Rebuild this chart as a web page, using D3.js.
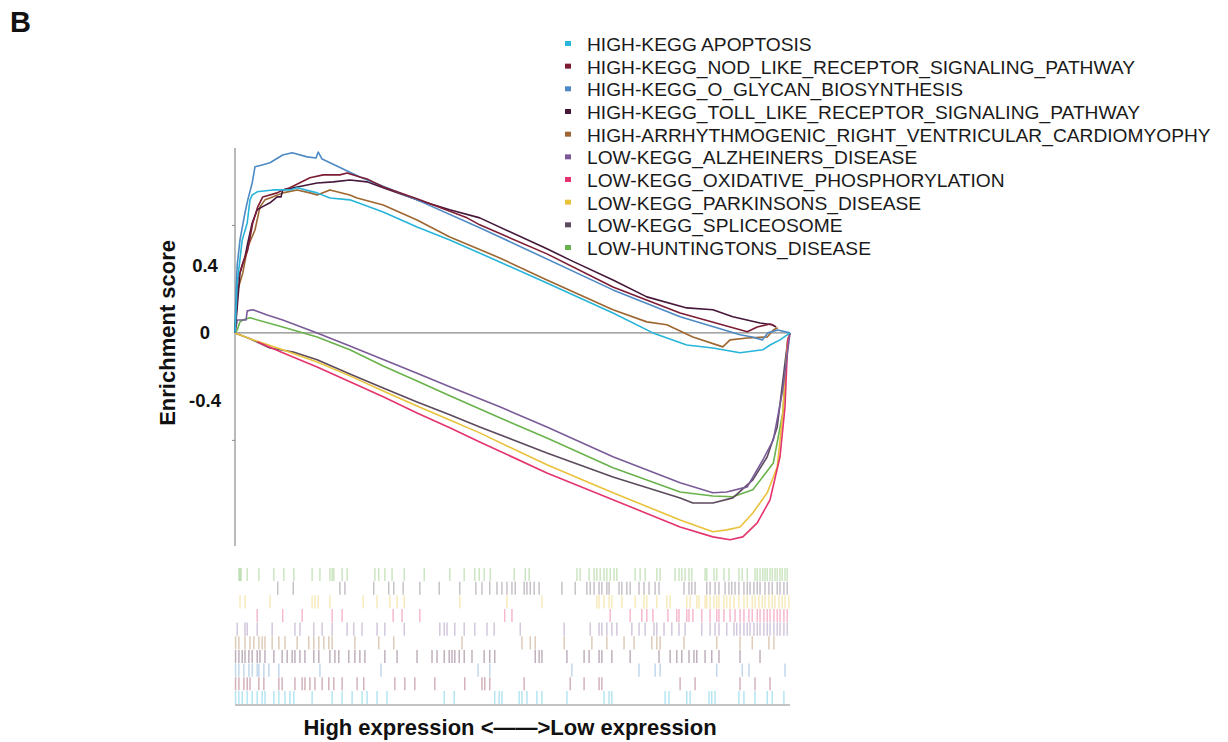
<!DOCTYPE html>
<html>
<head>
<meta charset="utf-8">
<script src="https://cdn.jsdelivr.net/npm/d3@7"></script>
<style>
  html, body { margin: 0; padding: 0; background: #fff; }
  svg { display: block; font-family: "Liberation Sans", Arial, sans-serif; }
</style>
</head>
<body>
<svg id="chart" width="1228" height="742"></svg>
<script>
// ---------- DATA ----------
const legendNames = [
  "HIGH-KEGG APOPTOSIS",
  "HIGH-KEGG_NOD_LIKE_RECEPTOR_SIGNALING_PATHWAY",
  "HIGH-KEGG_O_GLYCAN_BIOSYNTHESIS",
  "HIGH-KEGG_TOLL_LIKE_RECEPTOR_SIGNALING_PATHWAY",
  "HIGH-ARRHYTHMOGENIC_RIGHT_VENTRICULAR_CARDIOMYOPHY",
  "LOW-KEGG_ALZHEINERS_DISEASE",
  "LOW-KEGG_OXIDATIVE_PHOSPHORYLATION",
  "LOW-KEGG_PARKINSONS_DISEASE",
  "LOW-KEGG_SPLICEOSOME",
  "LOW-HUNTINGTONS_DISEASE"
];
const seriesColors = ["#27b4d9", "#7d1d35", "#4d8ac4", "#45183a", "#9e6630",
                      "#7a5b98", "#e5336b", "#e9c23a", "#5c4a5e", "#69b24c"];

// running enrichment score: [rank % of ordered gene list, ES]
const esApoptosis = [[0,0],[0.4,0.186],[1.3,0.346],[2.2,0.409],[2.7,0.495],[3.1,0.513],[4.0,0.525],[6.8,0.532],[9.9,0.532],[11.2,0.540],[14.8,0.521],[17.1,0.502],[20.7,0.495],[26.7,0.450],[32.8,0.394],[38.7,0.346],[47.7,0.264],[56.2,0.186],[68.1,0.074],[75.3,0],[81.4,-0.045],[86.1,-0.056],[91.0,-0.074],[95.1,-0.063],[96.4,-0.045],[98.2,-0.026],[100,0]];
const esNod = [[0,0],[0.5,0.197],[1.4,0.260],[2.3,0.309],[3.2,0.409],[4.1,0.469],[5.0,0.506],[7.6,0.521],[8.6,0.532],[9.9,0.540],[13.5,0.577],[15.9,0.588],[18.9,0.588],[20.2,0.595],[22.5,0.580],[23.8,0.573],[26.7,0.543],[32.8,0.499],[41.8,0.428],[44.1,0.402],[56.2,0.294],[68.1,0.171],[80.2,0.074],[89.7,0.019],[92.3,0.004],[94.1,0.022],[96.4,0.033],[97.3,0.026]];
const esOGlycan = [[0,0],[0.2,0.16],[0.4,0.253],[0.9,0.346],[1.8,0.447],[2.3,0.495],[3.1,0.558],[3.6,0.618],[4.9,0.625],[6.3,0.633],[8.6,0.662],[10.3,0.670],[13.0,0.655],[14.6,0.651],[15.0,0.673],[15.7,0.647],[22.5,0.580],[32.8,0.495],[44.1,0.391],[47.7,0.357],[68.1,0.160],[80.2,0.060],[91.0,-0.007],[93.2,-0.015],[95.0,-0.026],[96.0,0.0],[97.8,0.011],[100,0]];
const esToll = [[0,0],[0.2,0.048],[0.4,0.097],[0.9,0.223],[1.8,0.283],[2.3,0.335],[3.1,0.409],[4.0,0.458],[4.9,0.469],[6.3,0.484],[7.6,0.506],[8.3,0.506],[8.6,0.532],[11.2,0.543],[14.8,0.558],[17.7,0.562],[20.7,0.569],[23.8,0.562],[26.7,0.540],[32.8,0.495],[38.7,0.458],[44.1,0.428],[56.2,0.313],[60.7,0.268],[68.1,0.197],[74.2,0.134],[81.4,0.093],[86.1,0.086],[89.7,0.060],[94.6,0.037],[96.8,0.030],[97.5,0.022]];
const esArrhythm = [[0,0],[0.5,0.160],[1.4,0.223],[2.3,0.320],[3.6,0.383],[4.5,0.469],[5.4,0.495],[6.3,0.502],[8.6,0.521],[11.2,0.532],[13.5,0.521],[14.8,0.513],[17.1,0.532],[20.7,0.513],[22.0,0.502],[26.7,0.476],[32.8,0.420],[38.7,0.357],[47.7,0.279],[56.2,0.197],[68.1,0.086],[74.2,0.041],[77.8,0.030],[82.5,-0.015],[87.9,-0.052],[89.2,-0.026],[92.3,-0.019],[95.9,-0.015],[97.0,0.011],[97.8,0.019]];
const esAlzheimer = [[0,0],[0.4,0.048],[2.0,0.048],[2.2,0.082],[3.2,0.086],[5.8,0.067],[8.6,0.048],[14.8,0],[20.7,-0.049],[26.7,-0.099],[32.8,-0.150],[38.7,-0.200],[44.1,-0.245],[47.7,-0.275],[56.2,-0.350],[68.1,-0.461],[80.2,-0.558],[86.1,-0.595],[88.6,-0.592],[92.3,-0.573],[95.1,-0.473],[97.0,-0.398],[98.7,-0.212],[100,0]];
const esOxidative = [[4.0,-0.033],[8.6,-0.074],[14.8,-0.127],[20.7,-0.182],[26.7,-0.238],[32.8,-0.298],[38.7,-0.353],[44.1,-0.406],[56.2,-0.521],[68.1,-0.621],[80.2,-0.722],[86.1,-0.759],[89.2,-0.770],[91.5,-0.759],[94.1,-0.707],[96.4,-0.621],[98.2,-0.461],[99.1,-0.275],[99.6,-0.026],[100,0]];
const esParkinsons = [[0,0],[2.7,-0.022],[8.6,-0.063],[14.8,-0.108],[20.7,-0.160],[26.7,-0.216],[32.8,-0.272],[38.7,-0.324],[44.1,-0.372],[56.2,-0.491],[68.1,-0.595],[80.2,-0.696],[86.1,-0.740],[88.6,-0.733],[91.0,-0.722],[93.3,-0.670],[95.9,-0.595],[97.7,-0.499],[98.7,-0.298],[99.6,-0.026],[100,0]];
const esSpliceosome = [[0,0],[2.7,-0.022],[6.3,-0.056],[10.5,-0.071],[14.8,-0.100],[20.7,-0.153],[26.7,-0.205],[32.8,-0.257],[38.7,-0.305],[44.1,-0.350],[56.2,-0.447],[68.1,-0.536],[80.2,-0.614],[82.5,-0.633],[86.1,-0.633],[89.7,-0.614],[93.3,-0.547],[95.9,-0.461],[97.7,-0.350],[99.6,-0.026],[100,0]];
const esHuntington = [[0,0],[0.4,0.011],[0.9,0.041],[1.4,0.048],[2.7,0.056],[8.6,0.022],[14.8,-0.015],[20.7,-0.063],[26.7,-0.123],[32.8,-0.179],[38.7,-0.234],[47.7,-0.316],[56.2,-0.391],[68.1,-0.502],[80.2,-0.592],[86.1,-0.607],[89.7,-0.610],[93.3,-0.584],[97.0,-0.484],[98.7,-0.298],[99.6,-0.026],[100,0]];

// gene-set hit positions (rank % of ordered gene list)
const hitsApoptosis = [0.1,0.7,1.3,2.2,3.1,4.0,4.9,5.4,7.0,7.9,9.0,9.9,10.6,13.9,17.5,19.3,21.1,22.9,23.8,25.6,27.4,37.7,39.5,46.8,47.6,48.1,51.2,51.7,52.6,54.4,55.3,59.8,66.5,67.4,67.9,77.5,78.2,81.4,82.0,85.4,85.9,86.5,90.8,91.7,93.7,95.9,96.8,98.9];
const hitsNod = [0.1,0.7,1.6,2.2,2.7,4.3,5.2,7.9,8.5,10.8,12.1,12.6,13.5,14.4,15.7,16.9,17.8,19.3,22.0,23.2,28.8,30.6,32.4,36.0,41.4,44.5,45.0,45.9,52.1,60.4,62.9,65.6,66.1,80.2,82.9,91.0,93.7,96.4];
const hitsOGlycan = [0.1,0.7,1.6,2.5,3.1,4.0,4.3,5.2,6.1,7.9,15.3,26.3,43.8,45.9,60.7,72.8,75.7,76.6,86.8,91.4,92.6,99.1];
const hitsToll = [0.1,0.7,1.3,1.8,2.5,3.1,4.0,4.5,5.4,7.0,8.5,9.4,10.3,10.8,11.7,12.6,14.2,15.1,17.1,18.0,18.7,20.5,21.6,22.5,23.4,27.0,29.2,32.8,35.5,36.4,37.7,38.6,39.1,39.6,40.4,41.3,42.7,44.9,45.9,46.8,54.1,54.8,55.3,59.8,62.9,63.8,65.6,66.1,67.9,71.2,76.4,78.4,79.6,80.5,81.8,82.7,83.2,84.7,85.9,87.2,91.0,94.6];
const hitsArrhythm = [0.1,0.7,1.8,2.7,3.4,4.3,4.9,5.4,6.7,7.9,9.0,11.2,13.3,14.2,15.1,16.0,16.9,17.5,21.6,25.9,28.6,40.9,51.7,53.2,54.1,59.3,64.3,67.0,70.1,71.9,75.1,76.0,76.6,80.9,86.8,91.0,93.2,96.2,97.1];
const hitsAlzheimer = [0.4,1.8,2.2,4.0,6.7,10.8,11.7,14.2,15.7,17.5,20.2,21.4,22.9,25.6,27.0,30.5,36.9,37.7,38.2,39.6,41.3,43.2,45.4,46.7,51.4,59.3,64.0,65.6,66.1,67.0,67.9,68.8,71.5,72.8,73.9,75.5,76.0,77.3,78.7,80.0,81.1,84.1,85.6,86.5,87.2,88.6,89.9,90.4,91.0,91.7,92.3,92.8,93.5,94.1,94.6,95.3,95.9,96.4,97.1,97.7,98.2,98.9,99.5];
const hitsOxidative = [4.0,8.6,12.1,17.5,19.3,28.5,30.1,33.3,48.6,49.9,67.6,71.2,73.3,74.2,75.3,78.0,79.6,80.0,81.4,81.8,82.5,84.1,85.6,86.8,87.2,88.1,89.2,90.1,91.0,91.7,92.6,93.2,94.1,94.6,95.3,95.9,96.4,97.1,97.7,98.2,98.9,99.5];
const hitsParkinsons = [0.9,1.8,6.3,13.9,14.4,15.0,17.1,23.1,25.6,27.9,29.2,30.5,40.5,49.0,55.3,65.2,65.6,66.5,67.4,67.9,69.7,72.1,73.7,74.2,76.0,77.8,78.4,81.4,82.0,83.2,83.6,84.7,85.0,85.6,86.3,86.8,87.2,88.1,88.6,89.2,89.9,90.8,91.7,92.3,93.2,93.7,94.4,95.0,95.5,96.2,96.8,97.3,98.0,98.6,99.1,99.8];
const hitsSpliceosome = [7.7,10.5,18.9,19.8,25.0,27.7,28.6,30.3,33.3,36.8,40.5,43.4,44.5,45.9,47.2,48.1,49.0,49.9,50.5,52.1,52.6,53.2,53.9,54.8,58.9,61.3,63.4,64.0,64.7,65.6,66.1,67.0,67.4,69.2,69.7,70.6,71.2,72.8,73.7,74.6,75.7,76.4,80.9,81.8,82.3,82.9,85.0,85.6,86.5,87.2,88.3,89.0,89.5,90.1,90.8,91.7,92.3,92.8,93.5,94.1,94.6,95.5,96.2,96.8,97.7,98.2,98.9,99.5];
const hitsHuntington = [0.7,0.9,1.1,2.2,4.3,7.0,8.8,10.6,13.9,15.3,17.1,17.5,17.8,19.3,20.2,25.2,25.9,27.0,28.3,30.5,34.1,38.7,41.3,43.2,44.0,44.9,46.0,50.3,52.3,53.0,61.6,62.2,63.8,64.7,65.2,65.8,66.5,67.0,67.6,68.3,68.8,72.1,73.0,73.9,76.0,76.6,79.3,80.0,80.5,81.1,81.8,82.3,84.7,85.0,86.3,86.8,88.1,89.0,90.8,91.4,92.3,93.7,94.1,94.6,95.1,95.5,95.9,96.4,96.8,97.3,97.7,98.2,98.6,99.1,99.5];

const yTickValues = [0.4, 0, -0.4];
const yTickLabels = ["0.4", "0", "-0.4"];
const yDomain = [-0.793, 0.688];
const xDomain = [0, 100];
const panelLabel = "B";
const yTitle = "Enrichment score";
const xTitle = "High expression <\u2014\u2014>Low expression";

// ---------- BUILD ----------
const esList = [esApoptosis, esNod, esOGlycan, esToll, esArrhythm,
                esAlzheimer, esOxidative, esParkinsons, esSpliceosome, esHuntington];
const hitList = [hitsApoptosis, hitsNod, hitsOGlycan, hitsToll, hitsArrhythm,
                 hitsAlzheimer, hitsOxidative, hitsParkinsons, hitsSpliceosome, hitsHuntington];
const series = legendNames.map((n, i) => ({ name: n, color: seriesColors[i], es: esList[i], hits: hitList[i] }));

const svg = d3.select("#chart");
svg.append("rect").attr("width", 1228).attr("height", 742).attr("fill", "#fff");

const plot = { left: 235, right: 790, top: 148, bottom: 546 };
const x = d3.scaleLinear().domain(xDomain).range([plot.left, plot.right]);
const y = d3.scaleLinear().domain(yDomain).range([plot.bottom, plot.top]);

// panel label
svg.append("text").attr("x", 10).attr("y", 32)
  .attr("font-size", 29).attr("font-weight", "bold").attr("fill", "#111").text(panelLabel);

// y axis line
svg.append("line").attr("x1", plot.left).attr("x2", plot.left)
  .attr("y1", plot.top).attr("y2", plot.bottom)
  .attr("stroke", "#8a8a8a").attr("stroke-width", 1.2);
// zero line
svg.append("line").attr("x1", x(xDomain[0])).attr("x2", x(xDomain[1]))
  .attr("y1", y(0)).attr("y2", y(0))
  .attr("stroke", "#8a8a8a").attr("stroke-width", 1.2);

// tick marks
svg.selectAll(".ytick").data(yTickValues.filter(v => v !== 0)).enter().append("line")
  .attr("x1", plot.left - 3).attr("x2", plot.left)
  .attr("y1", d => y(d)).attr("y2", d => y(d))
  .attr("stroke", "#8a8a8a").attr("stroke-width", 1);

// tick labels (placed as in the figure, pulled toward the zero line)
const labelPull = 0.63;
svg.selectAll(".ylab").data(yTickValues).enter().append("text")
  .attr("x", 205)
  .attr("y", d => y(d * labelPull))
  .attr("dy", "0.35em")
  .attr("text-anchor", "middle")
  .attr("font-size", 18.5).attr("font-weight", "bold").attr("fill", "#111")
  .text((d, i) => yTickLabels[i]);

// y title
svg.append("text")
  .attr("transform", `translate(175, ${y(0)}) rotate(-90)`)
  .attr("text-anchor", "middle")
  .attr("font-size", 22).attr("font-weight", "bold").attr("fill", "#111")
  .text(yTitle);

// curves
const line = d3.line().x(d => x(d[0])).y(d => y(d[1]));
const drawOrder = [9, 8, 7, 6, 5, 4, 3, 2, 1, 0];
svg.append("g").selectAll("path").data(drawOrder.map(i => series[i])).enter().append("path")
  .attr("d", d => line(d.es))
  .attr("fill", "none")
  .attr("stroke", d => d.color)
  .attr("stroke-width", 1.6)
  .attr("stroke-linejoin", "round");

// barcode
const barcodeOrder = series.slice().reverse().map(s => s.name);
const band = d3.scaleBand().domain(barcodeOrder).range([568, 704]).paddingInner(0.04);
const bc = svg.append("g");
series.forEach(s => {
  bc.append("g").selectAll("line").data(s.hits).enter().append("line")
    .attr("x1", d => x(d)).attr("x2", d => x(d))
    .attr("y1", band(s.name)).attr("y2", band(s.name) + band.bandwidth())
    .attr("stroke", s.color)
    .attr("stroke-width", 1.5)
    .attr("stroke-opacity", 0.34);
});
svg.append("line").attr("x1", x(xDomain[0])).attr("x2", x(xDomain[1]))
  .attr("y1", 705).attr("y2", 705)
  .attr("stroke", "#8a8a8a").attr("stroke-width", 1.2);

// x title
svg.append("text").attr("x", 510).attr("y", 735)
  .attr("text-anchor", "middle")
  .attr("font-size", 22).attr("font-weight", "bold").attr("fill", "#111")
  .text(xTitle);

// legend
const legendY = d3.scalePoint().domain(legendNames).range([44, 248]);
const lg = svg.append("g");
lg.selectAll("rect").data(series).enter().append("rect")
  .attr("x", 565).attr("y", d => legendY(d.name) - 3)
  .attr("width", 6).attr("height", 5)
  .attr("fill", d => d.color);
lg.selectAll("text").data(series).enter().append("text")
  .attr("x", 587).attr("y", d => legendY(d.name))
  .attr("dy", "0.36em")
  .attr("font-size", 19.2).attr("fill", "#1a1a1a")
  .text(d => d.name);
</script>
</body>
</html>
